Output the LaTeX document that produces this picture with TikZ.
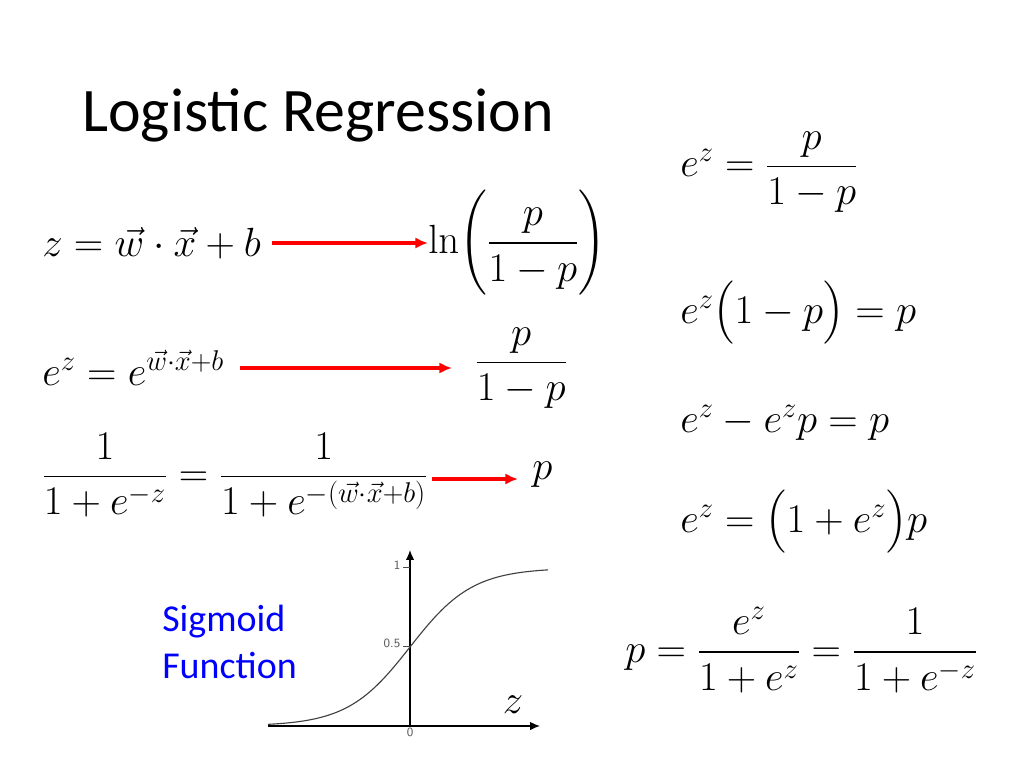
\RequirePackage{fix-cm}
\documentclass[tikz,border=0pt]{standalone}
\usepackage{amsmath}
\usepackage[no-math]{fontspec}
\setmainfont{Carlito}
\usetikzlibrary{arrows.meta}
\tikzset{
  eq/.style={inner sep=0pt,anchor=west,font=\fontsize{29}{35}\selectfont},
  redarrow/.style={draw=red,line width=2.2pt,-{Latex[length=9pt,width=8pt]}},
  axis/.style={line width=1pt,-{Latex[length=7pt,width=6pt]}},
  ticklabel/.style={font=\fontsize{9}{10}\sffamily,text=gray!70!black,inner sep=1pt}
}
\begin{document}
\begin{tikzpicture}[x=0.025cm,y=-0.025cm]
  \useasboundingbox (0,0) rectangle (1024,768);
  \node[anchor=west,inner sep=0pt,font=\fontsize{44}{50}\selectfont] (title) at (82,115) {Logistic Regression};
  % left column
  \node[eq] (lin) at (42,243) {$z=\vec{w}\cdot\vec{x}+b$};
  \node[eq] (logit) at (428,243) {$\ln\!\left(\dfrac{p}{1-p}\right)$};
  \node[eq] (ez) at (42,368) {$e^{z}=e^{\vec{w}\cdot\vec{x}+b}$};
  \node[eq] (odds) at (475,368) {$\dfrac{p}{1-p}$};
  \node[eq] (sig) at (42,475) {$\dfrac{1}{1+e^{-z}}=\dfrac{1}{1+e^{-(\vec{w}\cdot\vec{x}+b)}}$};
  \node[eq] (prob) at (532,475) {$p$};
  \coordinate (a1) at (272,243);
  \coordinate (a2) at (240,368);
  \coordinate (a3) at (432,479);
  \draw[redarrow] (a1) -- (logit.west);
  \draw[redarrow] (a2) -- (452,368);
  \draw[redarrow] (a3) -- (518,479);
  % right column
  \node[eq] (r1) at (680,172) {$e^{z}=\dfrac{p}{1-p}$};
  \node[eq] (r2) at (680,313) {$e^{z}\bigl(1-p\bigr)=p$};
  \node[eq] (r3) at (680,423) {$e^{z}-e^{z}p=p$};
  \node[eq] (r4) at (680,522) {$e^{z}=\bigl(1+e^{z}\bigr)p$};
  \node[eq] (r5) at (625,650) {$p=\dfrac{e^{z}}{1+e^{z}}=\dfrac{1}{1+e^{-z}}$};
  % sigmoid plot
  \node[anchor=west,inner sep=0pt,align=left,text=blue,font=\fontsize{27}{33}\selectfont] (name) at (162,642) {Sigmoid\\Function};
  \coordinate (o) at (410,726);
  \draw[axis] (268,726) -- (540,726);
  \draw[axis] (o) -- (410,550);
  \draw[gray!60!black] (403,567) -- (410,567) (403,646) -- (410,646);
  \node[ticklabel,anchor=east] (t1) at (402,565) {1};
  \node[ticklabel,anchor=east] (t05) at (402,643) {0.5};
  \node[ticklabel,anchor=north] (t0) at (o) {0};
  \draw[black!75,line width=0.8pt,domain=268:548,samples=80] plot (\x,{726-158/(1+exp(-0.032*(\x-410)))});
  \node[eq,anchor=center] (zlab) at (513,705) {$z$};
\end{tikzpicture}
\end{document}
